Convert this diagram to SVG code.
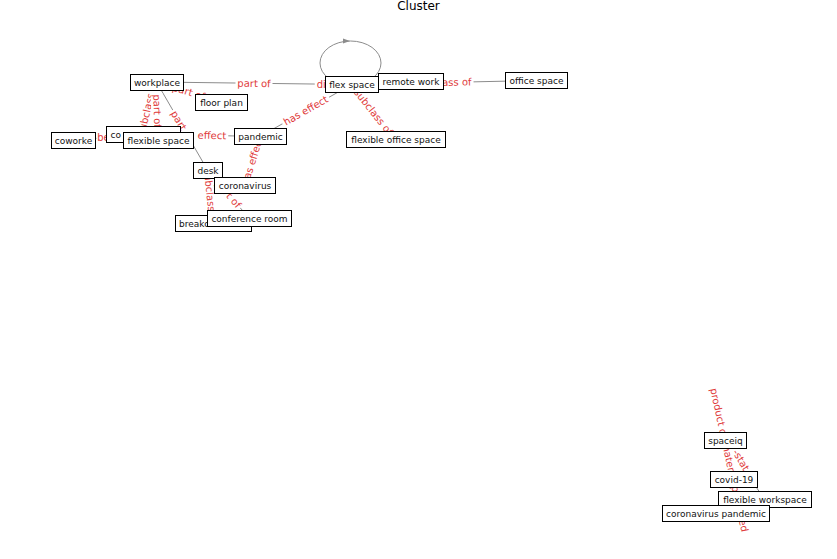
<svg xmlns="http://www.w3.org/2000/svg" width="837" height="559" viewBox="0 0 837 559">
<style>
  .title{font-family:"DejaVu Sans",sans-serif;font-size:12px;fill:#000}
  .edge line,.edge path{stroke:#8c8c8c;stroke-width:1;fill:none}
  .el rect{fill:#fff;stroke:none}
  .el text{font-family:"DejaVu Sans",sans-serif;font-size:10px;fill:#e03a3a;text-anchor:middle;dominant-baseline:central}
  .node rect{fill:#fff;stroke:#000;stroke-width:1}
  .node text{font-family:"DejaVu Sans",sans-serif;font-size:9px;fill:#111;text-anchor:middle;dominant-baseline:central}
</style>
<defs>
  <marker id="arr" viewBox="0 0 10 7" refX="10" refY="3.5" markerWidth="7" markerHeight="5" markerUnits="userSpaceOnUse" orient="auto">
    <path d="M0,0 L10,3.5 L0,7 z" fill="#8c8c8c"/>
  </marker>
</defs>
<rect width="837" height="559" fill="#fff"/>
<text class="title" x="418.5" y="10" text-anchor="middle">Cluster</text>

<g id="connectors" class="edge">
  <line x1="156.5" y1="82" x2="351.5" y2="84.5"/>
  <line x1="351.5" y1="84.5" x2="536" y2="80.5"/>
  <line x1="351.5" y1="84.5" x2="395.5" y2="139.5"/>
  <line x1="260" y1="136.5" x2="351.5" y2="84.5"/>
  <line x1="143" y1="134" x2="260" y2="136.5"/>
  <line x1="156.5" y1="82" x2="221" y2="102"/>
  <line x1="143" y1="134" x2="154.5" y2="92"/>
  <line x1="158" y1="140" x2="156.4" y2="92" marker-end="url(#arr)"/>
  <line x1="207.5" y1="170" x2="156.5" y2="82"/>
  <line x1="73" y1="140.5" x2="143" y2="134"/>
  <line x1="260" y1="136.5" x2="247.6" y2="176" marker-end="url(#arr)"/>
  <line x1="213" y1="223" x2="208.4" y2="180.5" marker-end="url(#arr)"/>
  <line x1="207.5" y1="170" x2="249" y2="218"/>
  <line x1="725" y1="440.5" x2="733.5" y2="479.5"/>
  <line x1="725" y1="440.5" x2="764.5" y2="499.5"/>
  <ellipse cx="350.5" cy="63" rx="30.5" ry="22" style="stroke:#8c8c8c;stroke-width:1;fill:none"/>
  <path d="M343,38.5 L350,41 L343,43.5 z" style="fill:#8c8c8c;stroke:none"/>

  <g class="el" transform="translate(254,83.5) rotate(0.7)"><rect x="-18.5" y="-7" width="37" height="14" rx="2"/><text>part of</text></g>
  <g class="el" transform="translate(351.5,84.5)"><rect x="-36.75" y="-7" width="73.5" height="14" rx="2"/><text x="-34.75" style="text-anchor:start">di</text></g>
  <g class="el" transform="translate(443.75,82.5) rotate(-1.2)"><rect x="-29.8" y="-7" width="59.6" height="14" rx="2"/><text>subclass of</text></g>
  <g class="el" transform="translate(373.5,112) rotate(51.3)"><rect x="-29.8" y="-7" width="59.6" height="14" rx="2"/><text>subclass of</text></g>
  <g class="el" transform="translate(305.75,110.5) rotate(-29.6)"><rect x="-26.8" y="-7" width="53.6" height="14" rx="2"/><text>has effect</text></g>
  <g class="el" transform="translate(201.5,135.25) rotate(1.2)"><rect x="-26.8" y="-7" width="53.6" height="14" rx="2"/><text>has effect</text></g>
  <g class="el" transform="translate(188.75,92) rotate(17.2)"><rect x="-18.5" y="-7" width="37" height="14" rx="2"/><text>part of</text></g>
  <g class="el" transform="translate(147.5,108) rotate(-77)"><rect x="-29.8" y="-6" width="59.6" height="12" rx="2"/><text>subclass of</text></g>
  <g class="el" transform="translate(157.25,111) rotate(88.3)"><rect x="-18.5" y="-6" width="37" height="12" rx="2"/><text>part of</text></g>
  <g class="el" transform="translate(182,126) rotate(59.9)"><rect x="-18.5" y="-7" width="37" height="14" rx="2"/><text>part of</text></g>
  <g class="el" transform="translate(103.5,137.5)"><rect x="-7" y="-7" width="14" height="14" rx="2"/><text>be</text></g>
  <g class="el" transform="translate(252.25,161) rotate(-72.6)"><rect x="-26.8" y="-7" width="53.6" height="14" rx="2"/><text>has effect</text></g>
  <g class="el" transform="translate(210.25,196.5) rotate(84)"><rect x="-29.8" y="-6" width="59.6" height="12" rx="2"/><text>subclass of</text></g>
  <g class="el" transform="translate(228.25,194) rotate(49.2)"><rect x="-18.5" y="-7" width="37" height="14" rx="2"/><text>part of</text></g>
  <g class="el" transform="translate(729.25,460) rotate(77.7)"><rect x="-75.5" y="-7" width="151" height="14" rx="2"/><text>product or material produced</text></g>
  <g class="el" transform="translate(741,460) rotate(60)"><rect x="-13" y="-6" width="26" height="12" rx="2"/><text>-stat</text></g>
</g>

<g id="n-workplace" class="node"><rect x="130.5" y="74.5" width="53" height="16"/><text x="157" y="82.5">workplace</text></g>
<g id="n-floorplan" class="node"><rect x="195.5" y="94.5" width="52" height="16"/><text x="221.5" y="102.5">floor plan</text></g>
<g id="n-coworking" class="node"><rect x="106.5" y="126.5" width="74" height="16"/><text x="110.5" y="134.5" style="text-anchor:start">co</text></g>
<g id="n-coworker" class="node"><rect x="51.5" y="132.5" width="44" height="16"/><text x="73.5" y="140.5">coworke</text></g>
<g id="n-flexiblespace" class="node"><rect x="123.5" y="132.5" width="70" height="16"/><text x="158.5" y="140.5">flexible space</text></g>
<g id="n-pandemic" class="node"><rect x="234.5" y="128.5" width="52" height="16"/><text x="260.5" y="136.5">pandemic</text></g>
<g id="n-desk" class="node"><rect x="193.5" y="162.5" width="29" height="16"/><text x="208" y="170.5">desk</text></g>
<g id="n-coronavirus" class="node"><rect x="214.5" y="177.5" width="61" height="16"/><text x="245" y="185.5">coronavirus</text></g>
<g id="n-breakout" class="node"><rect x="175.5" y="215.5" width="76" height="16"/><text x="179" y="223.5" style="text-anchor:start">breako</text></g>
<g id="n-conference" class="node"><rect x="207.5" y="210.5" width="84" height="16"/><text x="249.5" y="218.5">conference room</text></g>
<g id="n-flexspace" class="node"><rect x="325.5" y="76.5" width="53" height="16"/><text x="352" y="84.5">flex space</text></g>
<g id="n-remotework" class="node"><rect x="378.5" y="73.5" width="65" height="16"/><text x="411" y="81.5">remote work</text></g>
<g id="n-officespace" class="node"><rect x="505.5" y="72.5" width="62" height="16"/><text x="536.5" y="80.5">office space</text></g>
<g id="n-flexofficespace" class="node"><rect x="346.5" y="131.5" width="99" height="16"/><text x="396" y="139.5">flexible office space</text></g>
<g id="n-spaceiq" class="node"><rect x="704.5" y="432.5" width="42" height="16"/><text x="725.5" y="440.5">spaceiq</text></g>
<g id="n-covid19" class="node"><rect x="710.5" y="471.5" width="47" height="16"/><text x="734" y="479.5">covid-19</text></g>
<g id="n-flexworkspace" class="node"><rect x="718.5" y="491.5" width="93" height="16"/><text x="765" y="499.5">flexible workspace</text></g>
<g id="n-coronapandemic" class="node"><rect x="662.5" y="505.5" width="107" height="16"/><text x="716" y="513.5">coronavirus pandemic</text></g>
</svg>
